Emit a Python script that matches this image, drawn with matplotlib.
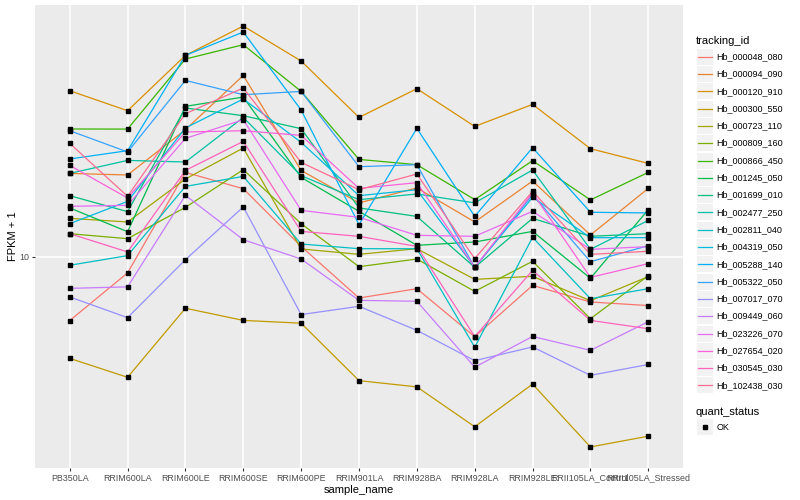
import numpy as np
import matplotlib
matplotlib.use("Agg")
import matplotlib.pyplot as plt
from matplotlib.patches import Rectangle
from matplotlib.ticker import NullLocator

plt.rcParams['font.family'] = ['Liberation Sans', 'DejaVu Sans']

# samples on the x axis
samples = ["PB350LA", "RRIM600LA", "RRIM600LE", "RRIM600SE", "RRIM600PE",
           "RRIM901LA", "RRIM928BA", "RRIM928LA", "RRIM928LE",
           "RRII105LA_Control", "RRII105LA_Stressed"]

# FPKM + 1 per gene, one value per sample
hb_000048_080 = [6.12, 8.83, 19.10, 16.85, 10.82, 7.28, 7.82, 5.41, 8.02, 7.06, 6.87]
hb_000094_090 = [18.95, 18.72, 26.50, 40.21, 19.39, 15.11, 16.95, 13.05, 17.87, 11.81, 16.89]
hb_000120_910 = [35.75, 30.66, 46.89, 58.74, 44.91, 29.12, 36.31, 27.18, 32.19, 22.91, 20.46]
hb_000300_550 = [4.58, 3.96, 6.73, 6.13, 6.00, 3.86, 3.68, 2.71, 3.76, 2.32, 2.52]
hb_000723_110 = [13.42, 13.05, 18.15, 23.03, 10.61, 10.18, 10.63, 8.40, 8.60, 7.13, 8.58]
hb_000809_160 = [11.93, 11.48, 14.60, 19.50, 12.88, 9.26, 9.82, 7.66, 9.65, 6.21, 8.64]
hb_000866_450 = [26.65, 26.63, 45.60, 50.90, 35.56, 21.10, 20.26, 15.49, 20.89, 15.46, 19.10]
hb_001245_050 = [14.54, 12.11, 31.70, 34.06, 18.38, 14.16, 10.91, 11.19, 12.14, 8.47, 14.35]
hb_001699_010 = [15.97, 14.13, 31.31, 29.51, 26.71, 14.54, 13.62, 9.21, 13.42, 11.69, 11.93]
hb_002477_250 = [18.95, 20.94, 20.68, 29.12, 18.62, 15.49, 16.18, 15.11, 19.45, 10.58, 13.21]
hb_002811_040 = [9.36, 10.08, 17.15, 18.52, 11.02, 10.63, 10.63, 4.99, 11.60, 7.24, 7.82]
hb_004319_050 = [12.88, 15.29, 26.86, 33.55, 24.05, 15.97, 16.72, 9.21, 15.77, 11.57, 11.57]
hb_005288_140 = [21.17, 22.56, 46.89, 56.10, 30.83, 12.79, 26.78, 13.62, 23.09, 14.06, 13.99]
hb_005322_050 = [26.30, 22.34, 38.69, 34.67, 35.56, 19.95, 20.26, 9.21, 16.10, 9.62, 10.88]
hb_007017_070 = [7.34, 6.26, 9.77, 14.65, 6.41, 6.83, 5.68, 4.50, 5.00, 4.02, 4.37]
hb_009449_060 = [7.84, 7.93, 16.01, 11.39, 9.82, 7.15, 7.10, 4.28, 5.42, 4.87, 6.07]
hb_023226_070 = [14.72, 14.83, 24.79, 28.62, 14.27, 13.52, 11.78, 11.69, 14.16, 10.58, 10.80]
hb_027654_020 = [20.15, 15.69, 26.04, 26.30, 25.37, 16.89, 17.65, 9.21, 16.30, 8.53, 9.48]
hb_030545_030 = [11.93, 10.37, 19.39, 24.23, 12.14, 11.69, 10.82, 5.41, 9.00, 6.13, 5.75]
hb_102438_030 = [23.87, 15.89, 29.97, 36.50, 20.62, 16.72, 18.86, 9.85, 16.51, 10.18, 10.42]

tracking_ids = ["Hb_000048_080", "Hb_000094_090", "Hb_000120_910", "Hb_000300_550",
                "Hb_000723_110", "Hb_000809_160", "Hb_000866_450", "Hb_001245_050",
                "Hb_001699_010", "Hb_002477_250", "Hb_002811_040", "Hb_004319_050",
                "Hb_005288_140", "Hb_005322_050", "Hb_007017_070", "Hb_009449_060",
                "Hb_023226_070", "Hb_027654_020", "Hb_030545_030", "Hb_102438_030"]
series = [hb_000048_080, hb_000094_090, hb_000120_910, hb_000300_550,
          hb_000723_110, hb_000809_160, hb_000866_450, hb_001245_050,
          hb_001699_010, hb_002477_250, hb_002811_040, hb_004319_050,
          hb_005288_140, hb_005322_050, hb_007017_070, hb_009449_060,
          hb_023226_070, hb_027654_020, hb_030545_030, hb_102438_030]

# ggplot hue palette, 20 colours
colors = ["#F8766D", "#EA8331", "#D89000", "#C09B00", "#A3A500", "#7CAE00",
          "#39B600", "#00BB4E", "#00BF7D", "#00C1A3", "#00BFC4", "#00BAE0",
          "#00B0F6", "#35A2FF", "#9590FF", "#C77CFF", "#E76BF3", "#FA62DB",
          "#FF62BC", "#FF6C91"]

fig = plt.figure(figsize=(8, 5), dpi=100)
ax = fig.add_axes([35 / 800, 32 / 500, 648 / 800, 463 / 500])
ax.set_facecolor("#EBEBEB")

x = np.arange(len(samples))
for vals, c in zip(series, colors):
    ax.plot(x, vals, color=c, lw=0.9, zorder=2)
for vals in series:
    ax.plot(x, vals, ls="none", marker="s", ms=2.3, color="black", zorder=3)

ax.set_yscale("log")
allv = np.log10(np.concatenate([np.array(s) for s in series]))
lo, hi = allv.min(), allv.max()
pad = 0.05 * (hi - lo)
ax.set_ylim(10 ** (lo - pad), 10 ** (hi + pad))
ax.set_xlim(-0.6, len(samples) - 0.4)

ax.set_yticks([10])
ax.set_yticklabels(["10"])
ax.yaxis.set_minor_locator(NullLocator())
ax.set_xticks(x)
ax.set_xticklabels(samples)
ax.grid(True, color="white", lw=1.1)
ax.set_axisbelow(True)
for s in ax.spines.values():
    s.set_visible(False)
ax.tick_params(axis="both", length=2.5, width=0.8, color="#333333",
               labelsize=6.4, labelcolor="#4D4D4D", pad=1.5)

ax.set_xlabel("sample_name", fontsize=8, labelpad=2)
ax.set_ylabel("FPKM + 1", fontsize=8, labelpad=1)

# legend drawn in pixel coordinates
lax = fig.add_axes([0, 0, 1, 1], facecolor="none")
lax.set_xlim(0, 800)
lax.set_ylim(500, 0)
lax.axis("off")

lax.text(696, 40.7, "tracking_id", fontsize=8, va="center", ha="left")
for i, (name, c) in enumerate(zip(tracking_ids, colors)):
    y = 56.7 + i * 17.3
    lax.add_patch(Rectangle((696.5, y - 8), 16, 16, color="#F2F2F2", lw=0))
    lax.plot([697.5, 711.5], [y, y], color=c, lw=0.9)
    lax.text(716.5, y, name, fontsize=6.5, va="center", ha="left")

lax.text(696, 411.7, "quant_status", fontsize=8, va="center", ha="left")
lax.add_patch(Rectangle((696.5, 427.3 - 8), 16, 16, color="#F2F2F2", lw=0))
lax.plot([704.5], [427.3], marker="s", ms=2.3, color="black")
lax.text(716.5, 427.3, "OK", fontsize=6.5, va="center", ha="left")

fig.savefig("out.png", dpi=100)
